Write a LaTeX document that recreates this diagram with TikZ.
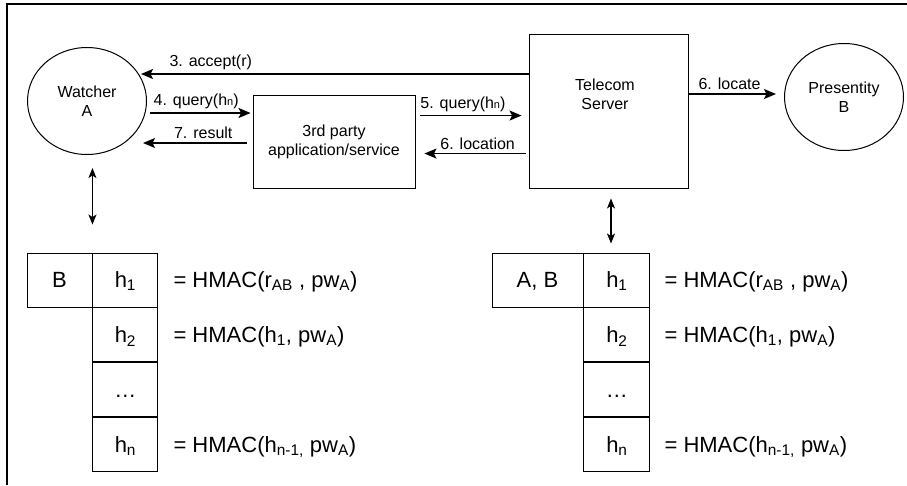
\documentclass[tikz,border=0pt]{standalone}
\usepackage{fontspec}
\setmainfont{Liberation Sans}
\usetikzlibrary{positioning,arrows.meta,calc,shapes.geometric}

\tikzset{
	box/.style={draw,line width=0.9pt,inner sep=0pt},
	party/.style={draw,ellipse,line width=1pt,minimum width=119pt,minimum height=107pt,align=center,font=\fontsize{16}{19}\selectfont},
	msg/.style={line width=1.5pt,-{Stealth[length=12pt,width=10pt,inset=2.5pt]}},
	dbl/.style={line width=1.3pt,{Stealth[length=10pt,width=8pt,inset=2.5pt]}-{Stealth[length=10pt,width=8pt,inset=2.5pt]}},
	lbl/.style={font=\fontsize{16}{19}\selectfont},
	cell/.style={box,minimum width=65pt,minimum height=54pt,text height=15pt,text depth=0pt,font=\fontsize{22}{26}\selectfont},
	eqn/.style={inner sep=0pt,text height=15pt,text depth=0pt,font=\fontsize{22}{26}\selectfont},
}
\newcommand{\sub}[1]{\textsubscript{#1}}
\newcommand{\hn}{h{\fontsize{11}{12}\selectfont n}}

\begin{document}
\begin{tikzpicture}[x=1pt,y=-1pt]
	\useasboundingbox (0,0) rectangle (907,485);
	\draw[line width=1.3pt] (907,4) -- (7,4) -- (7,485);

	\node[party] (watcher) at (87,101) {Watcher\\A};
	\node[party] (pres) at (844,97) {Presentity\\B};
	\node[box,lbl,align=center,minimum width=162pt,minimum height=93pt] (third) at (334,141.5) {3rd party\\application/service};
	\node[box,minimum width=159pt,minimum height=154pt] (tel) at (608.5,111) {};
	\node[lbl,align=center] (teltxt) at (605,94) {Telecom\\Server};

	\coordinate (accend) at (141,74);
	\coordinate (qstart) at (150,113);
	\coordinate (resend) at (143,143);

	\draw[msg] (tel.west |- accend) -- node[lbl,above,pos=0.82]{3. accept(r)} (accend);
	\draw[msg,shorten >=2pt] (qstart) -- node[lbl,above,pos=0.45]{4. query(\hn)} (third.west |- qstart);
	\draw[msg,shorten <=6pt] (third.west |- resend) -- node[lbl,above,pos=0.45]{7. result} (resend);
	\draw[msg,shorten <=5pt,shorten >=7pt] ($(third.north east)+(0,21)$) -- node[lbl,above,pos=0.42]{5. query(\hn)} ($(tel.north west)+(0,82)$);
	\draw[msg,shorten <=3pt,shorten >=9pt] ($(tel.north west)+(0,120)$) -- node[lbl,above,pos=0.45]{6. location} ($(third.north east)+(0,59)$);
	\draw[msg,shorten >=8pt] ($(tel.east |- pres.west)+(0,-3)$) -- node[lbl,above,pos=0.43]{6. locate} ($(pres.west)+(0,-3)$);

	% watcher's table
	\node[cell] (lb) at (59.5,280) {B};
	\node[cell,right=0pt of lb] (l1) {h\sub{1}};
	\node[cell,below=0pt of l1] (l2) {h\sub{2}};
	\node[cell,below=0pt of l2] (l3) {…};
	\node[cell,below=0pt of l3] (ln) {h\sub{n}};
	\node[eqn,right=15pt of l1] (le1) {= HMAC(r\sub{AB} , pw\sub{A})};
	\node[eqn,right=15pt of l2] (le2) {= HMAC(h\sub{1}, pw\sub{A})};
	\node[eqn,right=15pt of ln] (len) {= HMAC(h\sub{n-1,} pw\sub{A})};

	% server's table
	\node[cell,minimum width=91pt] (rb) at (537.5,280) {A, B};
	\node[cell,minimum width=66pt,right=0pt of rb] (r1) {h\sub{1}};
	\node[cell,minimum width=66pt,below=0pt of r1] (r2) {h\sub{2}};
	\node[cell,minimum width=66pt,below=0pt of r2] (r3) {…};
	\node[cell,minimum width=66pt,below=0pt of r3] (rn) {h\sub{n}};
	\node[eqn,right=14pt of r1] (re1) {= HMAC(r\sub{AB} , pw\sub{A})};
	\node[eqn,right=14pt of r2] (re2) {= HMAC(h\sub{1}, pw\sub{A})};
	\node[eqn,right=14pt of rn] (ren) {= HMAC(h\sub{n-1,} pw\sub{A})};

	\draw[dbl] ($(watcher.south -| lb.east)+(0,13)$) -- ($(lb.north east)+(0,-28)$);
	\draw[dbl] ($(tel.south)+(2.5,10)$) -- ($(tel.south |- r1.north)+(2.5,-9)$);
\end{tikzpicture}
\end{document}
